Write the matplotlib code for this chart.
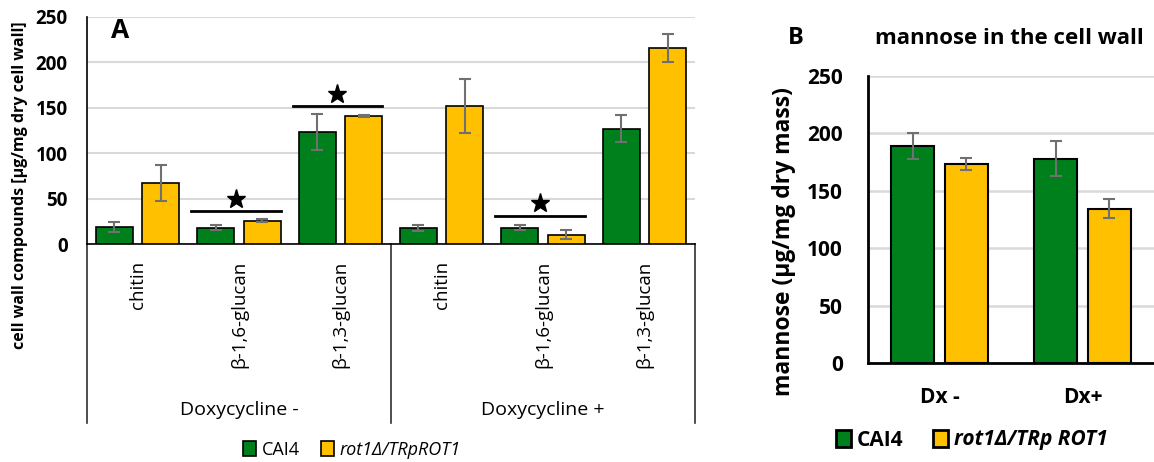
import numpy as np
import matplotlib
matplotlib.use("Agg")
from matplotlib import pyplot as plt
from matplotlib.transforms import blended_transform_factory

plt.rcParams['font.family'] = ['Open Sans', 'DejaVu Sans']

GREEN = '#00801C'
YELLOW = '#FFC000'
ERR = '#707070'
GRID = '#D9D9D9'

# panel A data
compounds = ['chitin', 'β-1,6-glucan', 'β-1,3-glucan',
             'chitin', 'β-1,6-glucan', 'β-1,3-glucan']
groups = ['Doxycycline -', 'Doxycycline +']
cai4_a = [19, 18, 123, 17.5, 18, 127]
cai4_a_err = [5.5, 3, 20, 3, 3, 15]
rot1_a = [67, 25.5, 141, 152, 10, 216]
rot1_a_err = [20, 1.5, 1.5, 30, 5, 15.5]
# significance: category index, line height, star height
sig_cat = [1, 2, 4]
sig_line = [36, 152, 31]
sig_star = [50, 165, 45]

# panel B data
conditions = ['Dx -', 'Dx+']
cai4_b = [189, 178]
cai4_b_err = [11, 15]
rot1_b = [173.5, 134.5]
rot1_b_err = [5.5, 8.5]

fig = plt.figure(figsize=(11.54, 4.62), dpi=100)

# ---------------- panel A ----------------
axA = fig.add_axes([87/1154, 1-244/462, (695-87)/1154, (244-17)/462])
x = np.arange(len(compounds))
w = 0.365
off = 0.229
ekw = dict(ecolor=ERR, elinewidth=1.5, capsize=4, capthick=1.5)
bA1 = axA.bar(x - off, cai4_a, w, yerr=cai4_a_err, color=GREEN, edgecolor='black',
              linewidth=1.2, error_kw=ekw, zorder=3, label='CAI4')
bA2 = axA.bar(x + off, rot1_a, w, yerr=rot1_a_err, color=YELLOW, edgecolor='black',
              linewidth=1.2, error_kw=ekw, zorder=3, label='rot1Δ/TRpROT1')
axA.set_xlim(-0.5, 5.5)
axA.set_ylim(0, 250)
axA.set_yticks([0, 50, 100, 150, 200, 250])
axA.yaxis.grid(True, color=GRID, linewidth=1.5, zorder=0)
axA.set_axisbelow(True)
for s in ['top', 'right']:
    axA.spines[s].set_visible(False)
axA.spines['left'].set_linewidth(1.2)
axA.spines['bottom'].set_linewidth(1.2)
axA.tick_params(axis='y', length=0, pad=14, labelsize=13.5)
for t in axA.get_yticklabels():
    t.set_fontweight('bold')
axA.set_xticks(x)
axA.set_xticklabels(compounds, rotation=90, fontsize=13.5, va='top')
axA.tick_params(axis='x', length=0, pad=12)

# hierarchical axis lines and group labels
trA = blended_transform_factory(axA.transData, axA.transAxes)
for xv in [-0.5, 2.5, 5.5]:
    axA.plot([xv, xv], [0, -0.789], transform=trA, color='#303030',
             linewidth=1.2, clip_on=False)
for i, g in enumerate(groups):
    axA.text(1 + 3*i, -0.731, g, transform=trA, ha='center', va='center', fontsize=14)

# significance marks
for c, ly, sy in zip(sig_cat, sig_line, sig_star):
    axA.plot([c - 0.47, c + 0.41], [ly, ly], color='black', linewidth=2, zorder=4)
    axA.plot([c - 0.03], [sy], marker='*', color='black', markersize=14, zorder=4)

axA.text(0.055, 0.94, 'A', transform=axA.transAxes, fontsize=19, fontweight='bold',
         ha='center', va='center')
fig.text(20/1154, 1-185/462, 'cell wall compounds [µg/mg dry cell wall]', rotation=90,
         ha='center', va='center', fontsize=11.5, fontweight='bold')

legA = fig.legend(handles=[bA1, bA2], loc='center', bbox_to_anchor=(352/1154, 1-450/462),
                  ncol=2, frameon=False, fontsize=13, handlelength=0.7, handleheight=0.9,
                  handletextpad=0.3, columnspacing=1.2)
legA.get_texts()[1].set_style('italic')
for h in legA.legend_handles:
    h.set_edgecolor('black')

# ---------------- panel B ----------------
axB = fig.add_axes([868/1154, 1-363/462, (1154-868)/1154, (363-76)/462])
xb = np.arange(len(conditions))
wb = 0.30
offb = 0.188
bB1 = axB.bar(xb - offb, cai4_b, wb, yerr=cai4_b_err, color=GREEN, edgecolor='black',
              linewidth=1.5, error_kw=ekw, zorder=3, label='CAI4')
bB2 = axB.bar(xb + offb, rot1_b, wb, yerr=rot1_b_err, color=YELLOW, edgecolor='black',
              linewidth=1.5, error_kw=ekw, zorder=3, label='rot1Δ/TRp ROT1')
axB.set_xlim(-0.5, 1.5)
axB.set_ylim(0, 250)
axB.set_yticks([0, 50, 100, 150, 200, 250])
axB.yaxis.grid(True, color=GRID, linewidth=1.8, zorder=0)
axB.set_axisbelow(True)
for s in ['top', 'right']:
    axB.spines[s].set_visible(False)
axB.spines['left'].set_linewidth(2)
axB.spines['bottom'].set_linewidth(2)
axB.tick_params(axis='y', length=0, pad=18, labelsize=15)
axB.set_xticks(xb)
axB.set_xticklabels(conditions, fontsize=15, fontweight='bold')
axB.tick_params(axis='x', length=0, pad=17)
for t in axB.get_yticklabels():
    t.set_fontweight('bold')
fig.text(784/1154, 1-242/462, 'mannose (µg/mg dry mass)', rotation=90, ha='center',
         va='center', fontsize=16.5, fontweight='bold')

fig.text(796/1154, 1-38/462, 'B', fontsize=17, fontweight='bold', ha='center', va='center')
fig.text(1009/1154, 1-39/462, 'mannose in the cell wall', fontsize=16, fontweight='bold',
         ha='center', va='center')

legB = fig.legend(handles=[bB1, bB2], loc='center', bbox_to_anchor=(972/1154, 1-440/462),
                  ncol=2, frameon=False, fontsize=15, handlelength=0.7, handleheight=0.9,
                  handletextpad=0.3, columnspacing=1.4,
                  prop=dict(weight='bold', size=15))
legB.get_texts()[1].set_style('italic')
for h in legB.legend_handles:
    h.set_edgecolor('black')
    h.set_linewidth(2)

fig.savefig('out.png', dpi=100)
